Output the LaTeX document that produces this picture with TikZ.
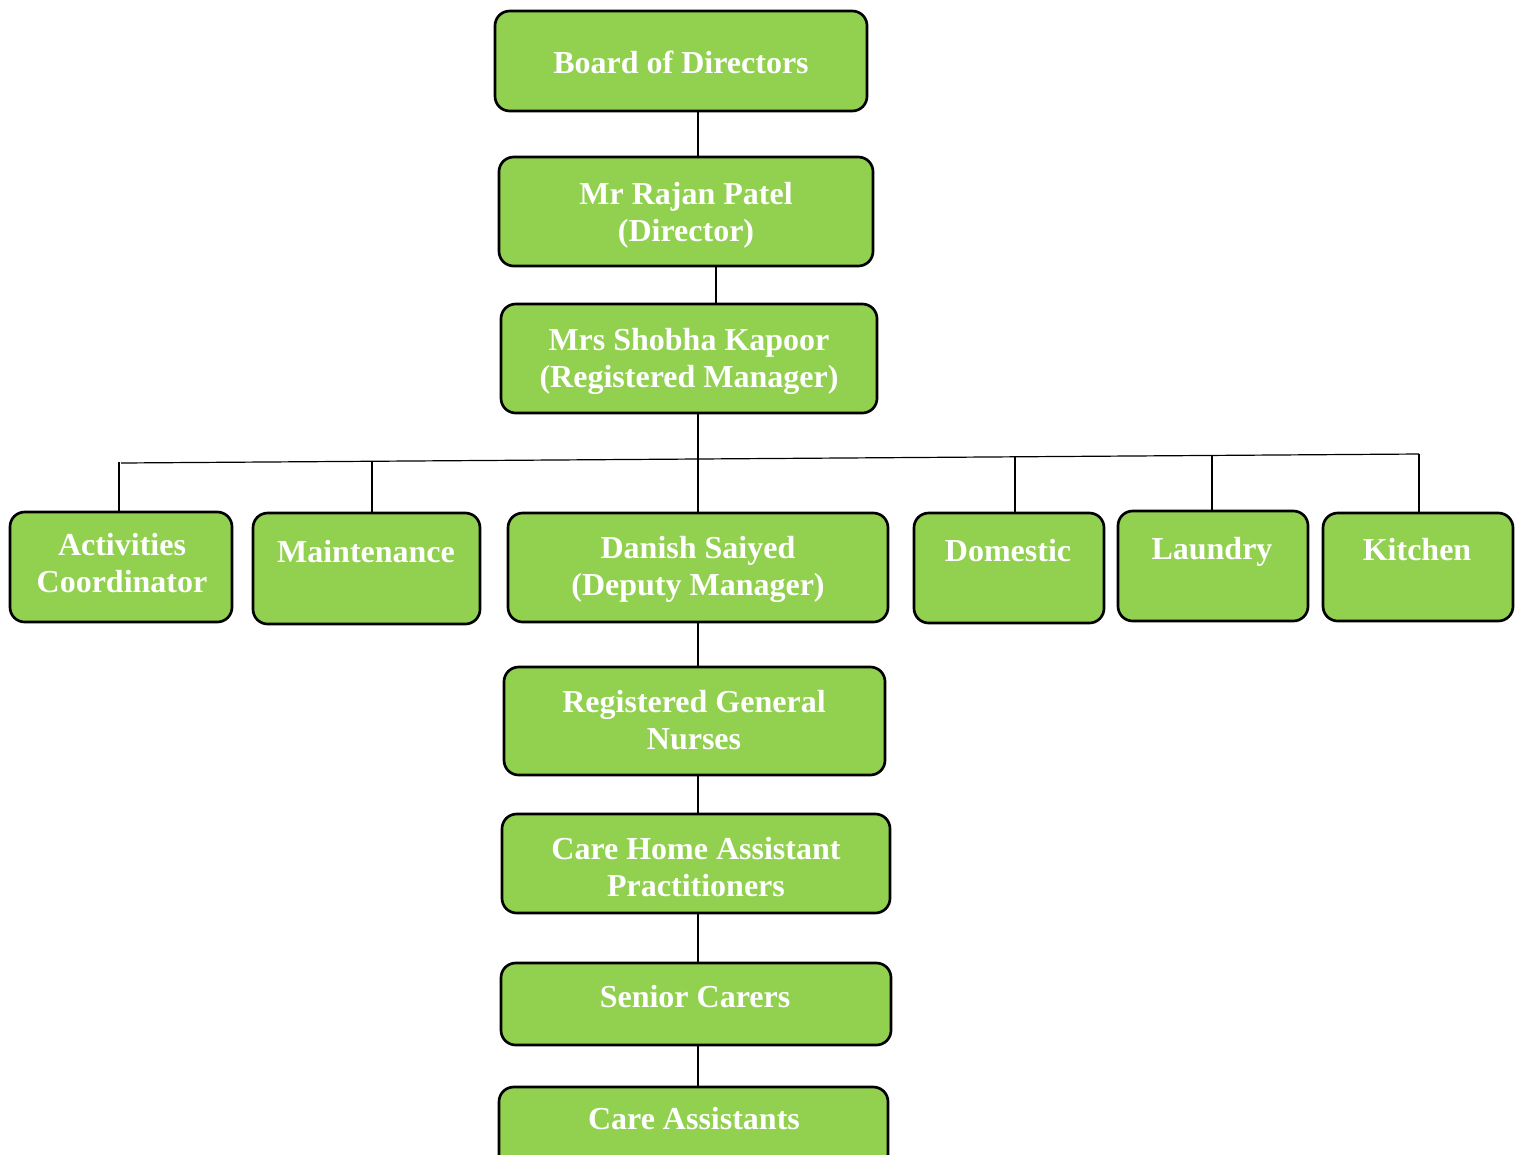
\documentclass[tikz,border=0pt]{standalone}
\usepackage{fontspec}
\setmainfont{Liberation Serif}
\begin{document}
\begin{tikzpicture}[x=0.75pt,y=-0.75pt,
  box/.style={draw=black, fill=boxgreen, line width=2pt, rounded corners=11pt, inner sep=0pt},
  sz/.style 2 args={minimum width=0.75pt*#1, minimum height=0.75pt*#2},
  lbl/.style={text=white, font=\fontsize{24}{27.75}\selectfont\bfseries, align=center, anchor=base, inner sep=0pt},
  link/.style={draw=black, line width=0.9pt}]
\definecolor{boxgreen}{HTML}{92D050}
\useasboundingbox (0,0) rectangle (1523,1154);
% boxes
\node[box, sz={372}{100}] (bod) at (681,61) {};
\node[box, sz={374}{109}] (rp) at (686,211.5) {};
\node[box, sz={376}{109}] (sk) at (689,358.5) {};
\node[box, sz={380}{109}] (ds) at (698,567.5) {};
\node[box, sz={381}{108}] (rgn) at (694.5,721) {};
\node[box, sz={388}{99}] (chap) at (696,863.5) {};
\node[box, sz={390}{82}] (sc) at (696,1004) {};
\node[box, sz={389}{110}] (ca) at (693.5,1142) {};
\node[box, sz={222}{110}] (ac) at (121,567) {};
\node[box, sz={227}{111}] (mt) at (366.5,568.5) {};
\node[box, sz={190}{110}] (dom) at (1009,568) {};
\node[box, sz={190}{110}] (lau) at (1213,566) {};
\node[box, sz={190}{108}] (kit) at (1418,567) {};
% labels (base anchor = baseline of the last line)
\node[lbl] (tbod) at (681,73) {Board of Directors};
\node[lbl] (trp) at (686,241) {Mr Rajan Patel\\(Director)};
\node[lbl] (tsk) at (689,387) {Mrs Shobha Kapoor\\(Registered Manager)};
\node[lbl] (tds) at (698,595) {Danish Saiyed\\(Deputy Manager)};
\node[lbl] (trgn) at (694,749) {Registered General\\Nurses};
\node[lbl] (tchap) at (696,896) {Care Home Assistant\\Practitioners};
\node[lbl] (tsc) at (695,1007) {Senior Carers};
\node[lbl] (tca) at (694,1129) {Care Assistants};
\node[lbl] (tac) at (122,592) {Activities\\Coordinator};
\node[lbl] (tmt) at (366,562) {Maintenance};
\node[lbl] (tdom) at (1008,561) {Domestic};
\node[lbl] (tlau) at (1212,559) {Laundry};
\node[lbl] (tkit) at (1417,560) {Kitchen};
% bus coordinates
\coordinate (busL) at (121,463);
\coordinate (busR) at (1419,454);
\coordinate (jac) at (119,462);
\coordinate (jmt) at (372,461.3);
\coordinate (jds) at (698,459);
\coordinate (jdom) at (1015,456.8);
\coordinate (jlau) at (1212,455.4);
\coordinate (jkit) at (1419,454);
% connectors
\path[link] (bod.south -| 698,0) -- (rp.north -| 698,0);
\path[link] (rp.south -| 716,0) -- (sk.north -| 716,0);
\path[link] (sk.south -| jds) -- (jds);
\path[link] (busL) -- (busR);
\path[link] (jac) -- (jac |- ac.north);
\path[link] (jmt) -- (jmt |- mt.north);
\path[link] (jds) -- (jds |- ds.north);
\path[link] (jdom) -- (jdom |- dom.north);
\path[link] (jlau) -- (jlau |- lau.north);
\path[link] (jkit) -- (jkit |- kit.north);
\path[link] (ds.south -| 698,0) -- (rgn.north -| 698,0);
\path[link] (rgn.south -| 698,0) -- (chap.north -| 698,0);
\path[link] (chap.south -| 698,0) -- (sc.north -| 698,0);
\path[link] (sc.south -| 698,0) -- (ca.north -| 698,0);
\end{tikzpicture}
\end{document}
